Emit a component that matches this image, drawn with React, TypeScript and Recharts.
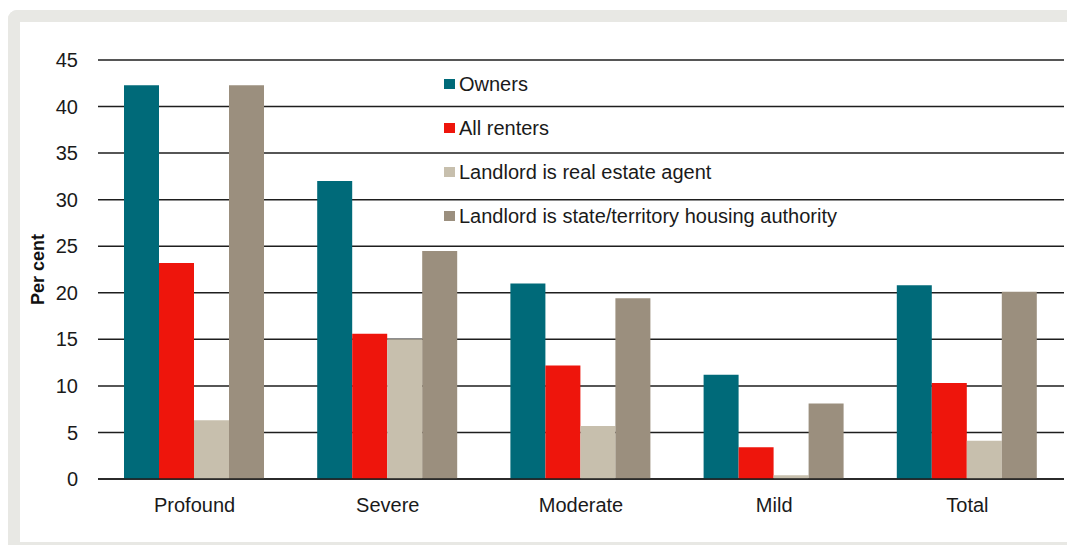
import React from "react";
import {
  BarChart,
  Bar,
  XAxis,
  YAxis,
  CartesianGrid,
  Label,
} from "recharts";

const categories = ["Profound", "Severe", "Moderate", "Mild", "Total"];
const owners = [42.3, 32.0, 21.0, 11.2, 20.8];
const allRenters = [23.2, 15.6, 12.2, 3.4, 10.3];
const realEstateAgent = [6.3, 15.0, 5.7, 0.4, 4.1];
const housingAuthority = [42.3, 24.5, 19.4, 8.1, 20.1];
const yTicks = [0, 5, 10, 15, 20, 25, 30, 35, 40, 45];

const series = [
  { key: "owners", name: "Owners", color: "#006a79" },
  { key: "allRenters", name: "All renters", color: "#ee150c" },
  { key: "realEstateAgent", name: "Landlord is real estate agent", color: "#c7bfad" },
  { key: "housingAuthority", name: "Landlord is state/territory housing authority", color: "#9b8f7e" },
];

const data = categories.map((c, i) => ({
  category: c,
  owners: owners[i],
  allRenters: allRenters[i],
  realEstateAgent: realEstateAgent[i],
  housingAuthority: housingAuthority[i],
}));

const FONT = '"Liberation Sans", Arial, sans-serif';

// legend sits over the plot, so keep it out of recharts' layout
function LegendBox() {
  return (
    <div
      style={{
        position: "absolute",
        left: 424,
        top: 40,
        fontFamily: FONT,
        fontSize: 20,
        color: "#1a1a1a",
        pointerEvents: "none",
      }}
    >
      {series.map((s) => (
        <div key={s.key} style={{ height: 44, display: "flex", alignItems: "center" }}>
          <span
            style={{
              display: "inline-block",
              width: 11,
              height: 10,
              background: s.color,
              marginRight: 4,
            }}
          />
          <span>{s.name}</span>
        </div>
      ))}
    </div>
  );
}

export default function App() {
  return (
    <div
      style={{
        marginTop: 2,
        width: 1067,
        height: 535,
        boxSizing: "border-box",
        borderTop: "12px solid #e8e8e4",
        borderLeft: "12px solid #e8e8e4",
        borderBottom: "3px solid #e8e8e4",
        borderTopLeftRadius: 9,
        background: "#fff",
        overflow: "hidden",
        position: "relative",
      }}
    >
      <BarChart
        width={1055}
        height={520}
        data={data}
        margin={{ top: 38, right: 11, bottom: 0, left: 0 }}
        barCategoryGap={26}
        barGap={0}
      >
        <CartesianGrid vertical={false} stroke="#1e1e1e" strokeWidth={1.5} />
        <XAxis
          dataKey="category"
          height={63}
          tickLine={false}
          tickSize={0}
          tickMargin={19}
          axisLine={{ stroke: "#1e1e1e", strokeWidth: 1.5 }}
          tick={{ fontSize: 20, fill: "#1a1a1a", fontFamily: FONT }}
        />
        <YAxis
          width={78}
          domain={[0, 45]}
          ticks={yTicks}
          interval={0}
          axisLine={false}
          tickLine={false}
          tickSize={0}
          tickMargin={20}
          tick={{ fontSize: 20, fill: "#1a1a1a", fontFamily: FONT }}
        >
          <Label
            content={({ viewBox }: any) => {
              const cy = viewBox.y + viewBox.height / 2;
              return (
                <text
                  x={18}
                  y={cy}
                  transform={`rotate(-90, 18, ${cy})`}
                  textAnchor="middle"
                  dominantBaseline="central"
                  fontFamily={FONT}
                  fontWeight="bold"
                  fontSize={18}
                  fill="#111"
                >
                  Per cent
                </text>
              );
            }}
          />
        </YAxis>
        {series.map((s) => (
          <Bar
            key={s.key}
            dataKey={s.key}
            name={s.name}
            fill={s.color}
            isAnimationActive={false}
          />
        ))}
      </BarChart>
      <LegendBox />
    </div>
  );
}
